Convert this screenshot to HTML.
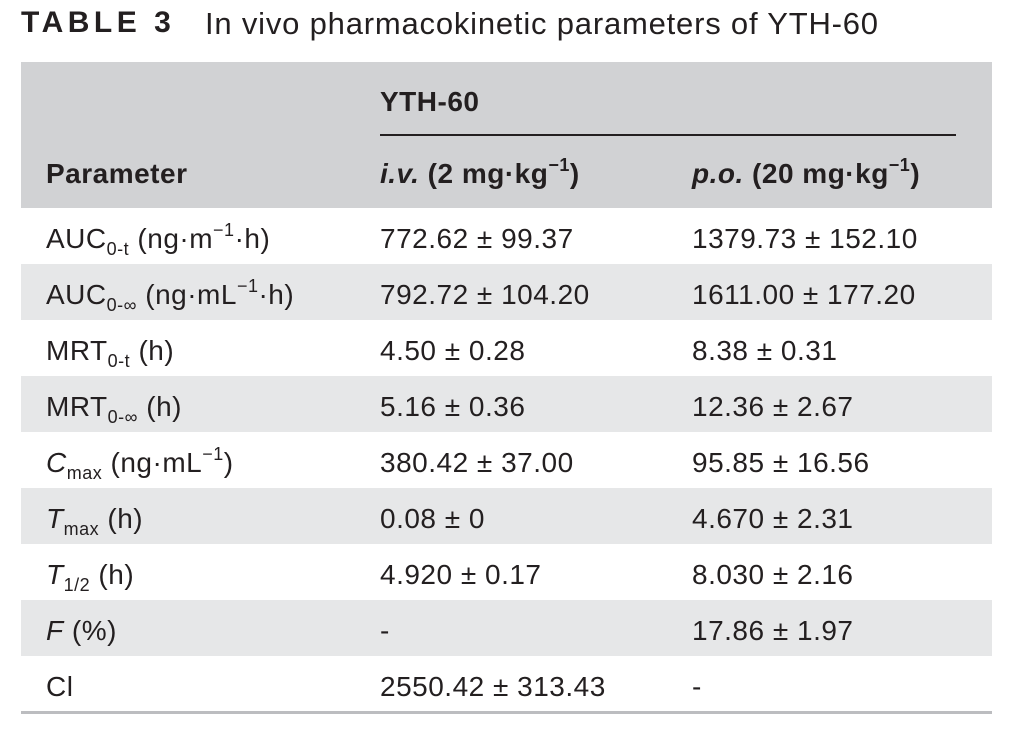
<!DOCTYPE html>
<html><head><style>
body{margin:0;width:1019px;height:732px;background:#fff;font-family:"Liberation Sans",sans-serif;color:#231f20;position:relative;overflow:hidden}
.a{position:absolute;white-space:nowrap}
.t{font-size:28px;line-height:30px;letter-spacing:0.5px}
.row{position:absolute;left:21px;width:971px;height:56px}
sub{font-size:18px;vertical-align:-7px;line-height:0}
sup{font-size:18px;vertical-align:12px;line-height:0}
</style></head><body>
<div class="a" style="left:21px;top:6px;font-size:30px;font-weight:bold;letter-spacing:4.5px">TABLE 3</div>
<div class="a" style="left:205px;top:6px;font-size:31px;letter-spacing:0.8px">In vivo pharmacokinetic parameters of YTH-60</div>
<div class="a" style="left:21px;top:62px;width:971px;height:146px;background:#d1d2d4"></div>
<div class="a t" style="left:380px;top:87px;font-weight:bold">YTH-60</div>
<div class="a" style="left:380px;top:134px;width:576px;height:2px;background:#231f20"></div>
<div class="a t" style="left:46px;top:159px;font-weight:bold">Parameter</div>
<div class="a t" style="left:380px;top:159px;font-weight:bold"><i>i.v.</i> (2 mg·kg<sup>−1</sup>)</div>
<div class="a t" style="left:692px;top:159px;font-weight:bold"><i>p.o.</i> (20 mg·kg<sup>−1</sup>)</div>
<div class="row" style="top:264px;background:#e6e7e8"></div>
<div class="row" style="top:376px;background:#e6e7e8"></div>
<div class="row" style="top:488px;background:#e6e7e8"></div>
<div class="row" style="top:600px;background:#e6e7e8"></div>
<div class="a" style="left:21px;top:711px;width:971px;height:3px;background:#bcbdc0"></div>

<div class="a t" style="left:46px;top:224px">AUC<sub>0-t</sub> (ng·m<sup>−1</sup>·h)</div>
<div class="a t" style="left:380px;top:224px">772.62 ± 99.37</div>
<div class="a t" style="left:692px;top:224px">1379.73 ± 152.10</div>

<div class="a t" style="left:46px;top:280px">AUC<sub>0-∞</sub> (ng·mL<sup>−1</sup>·h)</div>
<div class="a t" style="left:380px;top:280px">792.72 ± 104.20</div>
<div class="a t" style="left:692px;top:280px">1611.00 ± 177.20</div>

<div class="a t" style="left:46px;top:336px">MRT<sub>0-t</sub> (h)</div>
<div class="a t" style="left:380px;top:336px">4.50 ± 0.28</div>
<div class="a t" style="left:692px;top:336px">8.38 ± 0.31</div>

<div class="a t" style="left:46px;top:392px">MRT<sub>0-∞</sub> (h)</div>
<div class="a t" style="left:380px;top:392px">5.16 ± 0.36</div>
<div class="a t" style="left:692px;top:392px">12.36 ± 2.67</div>

<div class="a t" style="left:46px;top:448px"><i>C</i><sub>max</sub> (ng·mL<sup>−1</sup>)</div>
<div class="a t" style="left:380px;top:448px">380.42 ± 37.00</div>
<div class="a t" style="left:692px;top:448px">95.85 ± 16.56</div>

<div class="a t" style="left:46px;top:504px"><i>T</i><sub>max</sub> (h)</div>
<div class="a t" style="left:380px;top:504px">0.08 ± 0</div>
<div class="a t" style="left:692px;top:504px">4.670 ± 2.31</div>

<div class="a t" style="left:46px;top:560px"><i>T</i><sub>1/2</sub> (h)</div>
<div class="a t" style="left:380px;top:560px">4.920 ± 0.17</div>
<div class="a t" style="left:692px;top:560px">8.030 ± 2.16</div>

<div class="a t" style="left:46px;top:616px"><i>F</i> (%)</div>
<div class="a t" style="left:380px;top:616px">-</div>
<div class="a t" style="left:692px;top:616px">17.86 ± 1.97</div>

<div class="a t" style="left:46px;top:672px">Cl</div>
<div class="a t" style="left:380px;top:672px">2550.42 ± 313.43</div>
<div class="a t" style="left:692px;top:672px">-</div>
</body></html>
